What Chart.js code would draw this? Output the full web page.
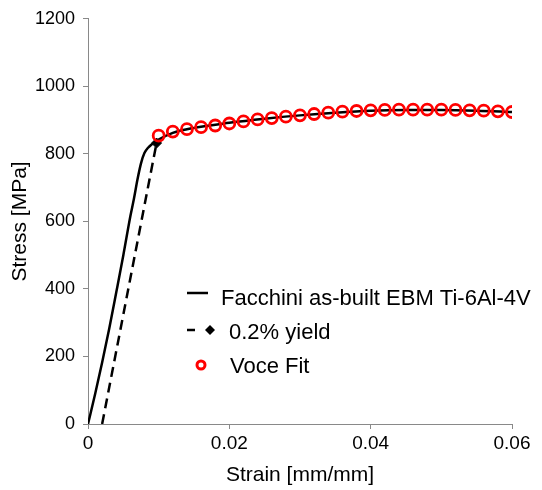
<!DOCTYPE html>
<html>
<head>
<meta charset="utf-8">
<script src="https://cdn.jsdelivr.net/npm/chart.js@4/dist/chart.umd.min.js"></script>
<style>
body{margin:0;background:#fff}
#box{width:542px;height:490px}
</style>
</head>
<body>
<div id="box"><canvas id="stressChart" width="542" height="490"></canvas></div>
<script>

const xTicks=[0,0.02,0.04,0.06]
const yTicks=[0,200,400,600,800,1000,1200]

const facchiniStrain=[0,0.001,0.002,0.003,0.004,0.005,0.006,0.0065,0.007,0.0075,0.008,0.0085,0.009,0.0095,0.010,0.012,0.015,0.020,0.025,0.030,0.035,0.040,0.045,0.050,0.055,0.060]
const facchiniStress=[0,88,182,282,390,500,616,667,724,772,803,818,828,835,842,862,877,892,904,914,922,928,930,930,928,924]

const yieldStrain=[0.002,0.0097]
const yieldStress=[0,832]

const voceStrain=[0.010,0.012,0.014,0.016,0.018,0.020,0.022,0.024,0.026,0.028,0.030,0.032,0.034,0.036,0.038,0.040,0.042,0.044,0.046,0.048,0.050,0.052,0.054,0.056,0.058,0.060]
const voceStress=[854,866,873,879,884,890,896,902,906,910,914,918,922,925,927,929,930,931,931,931,931,930,929,928,926,924]

const legendLabels=["Facchini as-built EBM Ti-6Al-4V","0.2% yield","Voce Fit"]

const fontFamily="'Liberation Sans', Arial, Helvetica, sans-serif"
const axisGray="#898989"

function toPoints(xs,ys)
{
return xs.map((x,i)=>({x:x,y:ys[i]}))
}

// legend drawn inside the plot like the original
const insideLegend=
{
id:"insideLegend",
afterDraw(chart)
{
const ctx=chart.ctx
ctx.save()
ctx.font="22px "+fontFamily
ctx.fillStyle="#000"
ctx.textBaseline="alphabetic"
ctx.textAlign="left"

// solid line
ctx.strokeStyle="#000"
ctx.lineWidth=2.5
ctx.beginPath()
ctx.moveTo(187,293)
ctx.lineTo(208,293)
ctx.stroke()
ctx.fillText(legendLabels[0],221,305)

// dash + diamond
ctx.beginPath()
ctx.moveTo(187,330)
ctx.lineTo(195,330)
ctx.stroke()
ctx.beginPath()
ctx.moveTo(210,325)
ctx.lineTo(215,330)
ctx.lineTo(210,335)
ctx.lineTo(205,330)
ctx.closePath()
ctx.fill()
ctx.fillText(legendLabels[1],229,339)

// red circle
ctx.strokeStyle="#ff0000"
ctx.lineWidth=3
ctx.beginPath()
ctx.arc(201,365,4,0,Math.PI*2)
ctx.stroke()
ctx.fillText(legendLabels[2],230,373)

ctx.restore()
}
}

new Chart(document.getElementById("stressChart"),
{
type:"scatter",
data:
{
datasets:[
{
label:legendLabels[2],
data:toPoints(voceStrain,voceStress),
showLine:false,
pointStyle:"circle",
pointRadius:5.5,
pointBorderWidth:2.8,
pointBorderColor:"#ff0000",
pointBackgroundColor:"rgba(0,0,0,0)",
order:0
},
{
label:legendLabels[1],
data:toPoints(yieldStrain,yieldStress),
showLine:true,
borderColor:"#000",
borderWidth:2.5,
borderDash:[10,6],
pointStyle:"rectRot",
pointRadius:[0,5],
pointBackgroundColor:"#000",
pointBorderColor:"#000",
pointBorderWidth:1,
order:1
},
{
label:legendLabels[0],
data:toPoints(facchiniStrain,facchiniStress),
showLine:true,
borderColor:"#000",
borderWidth:2.5,
pointRadius:0,
cubicInterpolationMode:"monotone",
order:2
}
]
},
options:
{
responsive:false,
animation:false,
layout:{padding:{top:17,right:30,left:0,bottom:0}},
plugins:
{
legend:{display:false},
tooltip:{enabled:false}
},
scales:
{
x:
{
type:"linear",
min:0,
max:0.06,
afterBuildTicks(scale){scale.ticks=xTicks.map(v=>({value:v}))},
afterFit(scale){scale.height=66},
ticks:{color:"#000",font:{family:fontFamily,size:19},padding:3,maxRotation:0,callback:v=>String(v)},
grid:{drawOnChartArea:false,drawTicks:true,tickLength:5,color:axisGray},
border:{color:axisGray,width:1},
title:{display:true,text:"Strain [mm/mm]",color:"#000",font:{family:fontFamily,size:21},padding:{top:0,bottom:2}}
},
y:
{
type:"linear",
min:0,
max:1200,
afterBuildTicks(scale){scale.ticks=yTicks.map(v=>({value:v}))},
afterFit(scale){scale.width=88},
ticks:{color:"#000",font:{family:fontFamily,size:18},padding:8,callback:v=>String(v)},
grid:{drawOnChartArea:false,drawTicks:true,tickLength:5,color:axisGray},
border:{color:axisGray,width:1},
title:{display:true,text:"Stress [MPa]",color:"#000",font:{family:fontFamily,size:21},padding:{top:8,bottom:0}}
}
}
},
plugins:[insideLegend]
})

</script>
</body>
</html>
